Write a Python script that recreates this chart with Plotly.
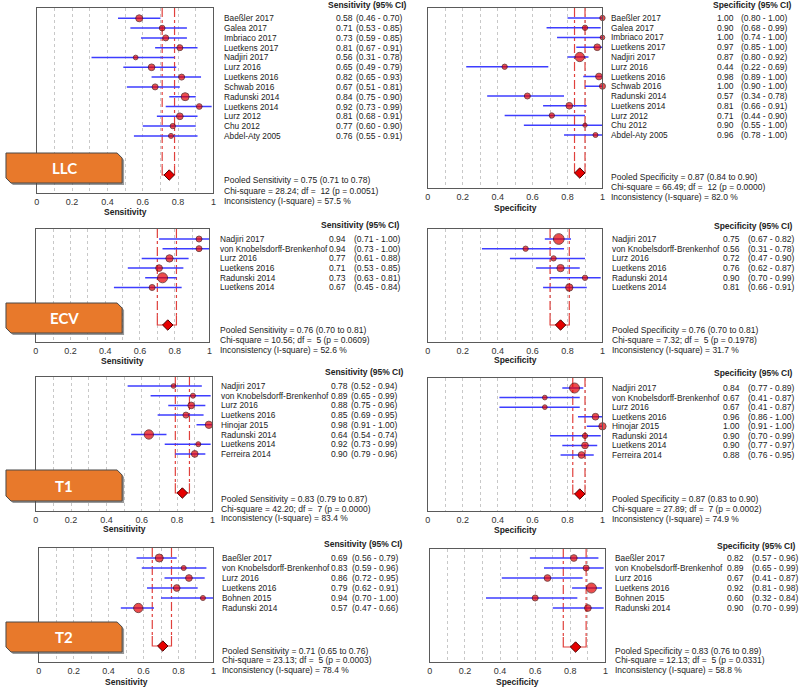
import plotly.graph_objects as go

W, H = 800, 687

# ------------------------------------------------------------------ data
llc_studies = ["Baeßler 2017", "Galea 2017", "Imbriaco 2017", "Luetkens 2017", "Nadjiri 2017",
               "Lurz 2016", "Luetkens 2016", "Schwab 2016", "Radunski 2014", "Luetkens 2014",
               "Lurz 2012", "Chu 2012", "Abdel-Aty 2005"]
llc_sens = [0.58, 0.71, 0.73, 0.81, 0.56, 0.65, 0.82, 0.67, 0.84, 0.92, 0.81, 0.77, 0.76]
llc_sens_lo = [0.46, 0.53, 0.59, 0.67, 0.31, 0.49, 0.65, 0.51, 0.75, 0.73, 0.68, 0.60, 0.55]
llc_sens_hi = [0.70, 0.85, 0.85, 0.91, 0.78, 0.79, 0.93, 0.81, 0.90, 0.99, 0.91, 0.90, 0.91]
llc_sens_weight = [7, 5.7, 6, 6, 4.7, 6.7, 6, 6, 8, 5.7, 6.7, 5.3, 5]
llc_sens_pooled = [0.75, 0.71, 0.78]
llc_sens_stats = [28.24, 12, 0.0051, 57.5]

llc_spec = [1.00, 0.90, 1.00, 0.97, 0.87, 0.44, 0.98, 1.00, 0.57, 0.81, 0.71, 0.90, 0.96]
llc_spec_lo = [0.80, 0.68, 0.74, 0.85, 0.80, 0.22, 0.89, 0.90, 0.34, 0.66, 0.44, 0.55, 0.78]
llc_spec_hi = [1.00, 0.99, 1.00, 1.00, 0.92, 0.69, 1.00, 1.00, 0.78, 0.91, 0.90, 1.00, 1.00]
llc_spec_weight = [5.3, 5.3, 4.7, 6.7, 9.3, 5.3, 6.7, 6, 6, 6.7, 5.3, 4.3, 5]
llc_spec_pooled = [0.87, 0.84, 0.90]
llc_spec_stats = [66.49, 12, 0.0000, 82.0]

ecv_studies = ["Nadjiri 2017", "von Knobelsdorff-Brenkenhof", "Lurz 2016", "Luetkens 2016",
               "Radunski 2014", "Luetkens 2014"]
ecv_sens = [0.94, 0.94, 0.77, 0.71, 0.73, 0.67]
ecv_sens_lo = [0.71, 0.73, 0.61, 0.53, 0.63, 0.45]
ecv_sens_hi = [1.00, 1.00, 0.88, 0.85, 0.81, 0.84]
ecv_sens_weight = [6, 6, 7.3, 6.7, 10, 6]
ecv_sens_pooled = [0.76, 0.70, 0.81]
ecv_sens_stats = [10.56, 5, 0.0609, 52.6]

ecv_spec = [0.75, 0.56, 0.72, 0.76, 0.90, 0.81]
ecv_spec_lo = [0.67, 0.31, 0.47, 0.62, 0.70, 0.66]
ecv_spec_hi = [0.82, 0.78, 0.90, 0.87, 0.99, 0.91]
ecv_spec_weight = [10.7, 5.3, 5.3, 7.3, 5.3, 7.3]
ecv_spec_pooled = [0.76, 0.70, 0.81]
ecv_spec_stats = [7.32, 5, 0.1978, 31.7]

t1_studies = ["Nadjiri 2017", "von Knobelsdorff-Brenkenhof", "Lurz 2016", "Luetkens 2016",
              "Hinojar 2015", "Radunski 2014", "Luetkens 2014", "Ferreira 2014"]
t1_sens = [0.78, 0.89, 0.88, 0.85, 0.98, 0.64, 0.92, 0.90]
t1_sens_lo = [0.52, 0.65, 0.75, 0.69, 0.91, 0.54, 0.73, 0.79]
t1_sens_hi = [0.94, 0.99, 0.96, 0.95, 1.00, 0.74, 0.99, 0.96]
t1_sens_weight = [4.7, 5, 6.7, 6, 7.3, 9.3, 5, 6.7]
t1_sens_pooled = [0.83, 0.79, 0.87]
t1_sens_stats = [42.20, 7, 0.0000, 83.4]

t1_spec = [0.84, 0.67, 0.67, 0.96, 1.00, 0.90, 0.90, 0.88]
t1_spec_lo = [0.77, 0.41, 0.41, 0.86, 0.91, 0.70, 0.77, 0.76]
t1_spec_hi = [0.89, 0.87, 0.87, 1.00, 1.00, 0.99, 0.97, 0.95]
t1_spec_weight = [10, 4.7, 4.7, 6.7, 7.3, 5.3, 6.7, 6.7]
t1_spec_pooled = [0.87, 0.83, 0.90]
t1_spec_stats = [27.89, 7, 0.0002, 74.9]

t2_studies = ["Baeßler 2017", "von Knobelsdorff-Brenkenhof", "Lurz 2016", "Luetkens 2016",
              "Bohnen 2015", "Radunski 2014"]
t2_sens = [0.69, 0.83, 0.86, 0.79, 0.94, 0.57]
t2_sens_lo = [0.56, 0.59, 0.72, 0.62, 0.70, 0.47]
t2_sens_hi = [0.79, 0.96, 0.95, 0.91, 1.00, 0.66]
t2_sens_weight = [8, 5, 6.7, 6.7, 5, 9.3]
t2_sens_pooled = [0.71, 0.65, 0.76]
t2_sens_stats = [23.13, 5, 0.0003, 78.4]

t2_spec = [0.82, 0.89, 0.67, 0.92, 0.60, 0.90]
t2_spec_lo = [0.57, 0.65, 0.41, 0.81, 0.32, 0.70]
t2_spec_hi = [0.96, 0.99, 0.87, 0.98, 0.84, 0.99]
t2_spec_weight = [6.7, 6, 6.7, 10, 6, 6.7]
t2_spec_pooled = [0.83, 0.76, 0.89]
t2_spec_stats = [12.13, 5, 0.0331, 58.8]

badge_labels = ["LLC", "ECV", "T1", "T2"]
tick_vals = [0, 0.2, 0.4, 0.6, 0.8, 1]
tick_text = ["0", "0.2", "0.4", "0.6", "0.8", "1"]

# ------------------------------------------------------------------ layout geometry (pixels)
GEOM = [
    dict(box=(34, 212, 8, 193), row0=18.3, step=9.8, pooled=175, nx=221, vx=333, cx=354, hx=325, hy=5,
         sy=(180, 190.5, 201), ty=212),
    dict(box=(428, 604, 8, 188), row0=18, step=9.75, pooled=173, nx=611, vx=717, cx=742, hx=713, hy=5,
         sy=(177, 187, 197), ty=208),
    dict(box=(33, 208, 229, 342), row0=239, step=9.7, pooled=325, nx=217, vx=326, cx=352, hx=318, hy=225,
         sy=(330, 340, 350), ty=361),
    dict(box=(428, 604, 229, 342), row0=239, step=9.7, pooled=325, nx=612, vx=723, cx=749, hx=714, hy=226,
         sy=(330, 340, 350), ty=360),
    dict(box=(33, 211, 377, 511), row0=386, step=9.7, pooled=493, nx=218, vx=328, cx=349, hx=322, hy=372,
         sy=(499, 509, 518), ty=529),
    dict(box=(428, 604, 378, 511), row0=388, step=9.57, pooled=494, nx=612, vx=723, cx=749, hx=714, hy=373,
         sy=(499, 509, 519), ty=530),
    dict(box=(36, 212, 548, 662), row0=558, step=10, pooled=646, nx=219, vx=328, cx=350, hx=321, hy=544,
         sy=(651, 660, 670), ty=681.5),
    dict(box=(430, 607, 549, 662), row0=558, step=10, pooled=647, nx=615, vx=727, cx=753, hx=717, hy=546,
         sy=(651, 660, 670), ty=681.5),
]
BADGES = [(3, 120, 153, 183), (3, 120, 303, 333), (3, 120, 470, 501), (3, 120, 622, 652)]

PANELS = [
    (llc_studies, llc_sens, llc_sens_lo, llc_sens_hi, llc_sens_weight, llc_sens_pooled, llc_sens_stats, "Sensitivity"),
    (llc_studies, llc_spec, llc_spec_lo, llc_spec_hi, llc_spec_weight, llc_spec_pooled, llc_spec_stats, "Specificity"),
    (ecv_studies, ecv_sens, ecv_sens_lo, ecv_sens_hi, ecv_sens_weight, ecv_sens_pooled, ecv_sens_stats, "Sensitivity"),
    (ecv_studies, ecv_spec, ecv_spec_lo, ecv_spec_hi, ecv_spec_weight, ecv_spec_pooled, ecv_spec_stats, "Specificity"),
    (t1_studies, t1_sens, t1_sens_lo, t1_sens_hi, t1_sens_weight, t1_sens_pooled, t1_sens_stats, "Sensitivity"),
    (t1_studies, t1_spec, t1_spec_lo, t1_spec_hi, t1_spec_weight, t1_spec_pooled, t1_spec_stats, "Specificity"),
    (t2_studies, t2_sens, t2_sens_lo, t2_sens_hi, t2_sens_weight, t2_sens_pooled, t2_sens_stats, "Sensitivity"),
    (t2_studies, t2_spec, t2_spec_lo, t2_spec_hi, t2_spec_weight, t2_spec_pooled, t2_spec_stats, "Specificity"),
]

FONT = "Liberation Sans, Arial, sans-serif"
TXT = "#222222"
FS = 8.5
FS_NAME = 8.3
BLUE = "#3d3dff"
RED = "#e60000"
DASHRED = "#e0403c"
GRID = "#c8c8c8"


def pxx(p):
    return p / W


def pxy(p):
    return 1 - p / H


fig = go.Figure()
annotations = []
shapes = []
layout_axes = {}

for k, (panel, g) in enumerate(zip(PANELS, GEOM), start=1):
    studies, est, lo, hi, wt, pooled, stats, measure = panel
    x0, x1, y0, y1 = g["box"]
    sfx = "" if k == 1 else str(k)
    xa, ya = "x" + sfx, "y" + sfx
    top_idx = (y0 - g["row0"]) / g["step"]
    bot_idx = (y1 - g["row0"]) / g["step"]
    p_idx = (g["pooled"] - g["row0"]) / g["step"]
    n = len(studies)
    idx = list(range(n))

    layout_axes["xaxis" + sfx] = dict(
        domain=[pxx(x0), pxx(x1)], anchor=ya, range=[0, 1], fixedrange=True,
        tickmode="array", tickvals=tick_vals, ticktext=tick_text,
        tickfont=dict(family=FONT, size=9, color="#333"),
        ticks="",
        showgrid=True, gridcolor=GRID, griddash="dot", gridwidth=1,
        minor=dict(tick0=0, dtick=0.1, showgrid=True, gridcolor=GRID, griddash="dot", gridwidth=1),
        showline=True, mirror=True, linecolor="#5a5a5a", linewidth=1.3, zeroline=False,
    )
    layout_axes["yaxis" + sfx] = dict(
        domain=[pxy(y1), pxy(y0)], anchor=xa, range=[bot_idx, top_idx], fixedrange=True,
        showticklabels=False, ticks="", showgrid=False, zeroline=False,
        showline=True, mirror=True, linecolor="#5a5a5a", linewidth=1.3,
    )

    for v in (pooled[1], pooled[2]):
        fig.add_trace(go.Scatter(x=[v, v], y=[top_idx, p_idx - 1.0], mode="lines",
                                 line=dict(color=DASHRED, width=1.2, dash="dashdot"),
                                 xaxis=xa, yaxis=ya, hoverinfo="skip", showlegend=False))
    fig.add_trace(go.Scatter(x=[pooled[1], pooled[1], pooled[2], pooled[2]],
                             y=[p_idx - 1.0, p_idx, p_idx, p_idx - 1.0], mode="lines",
                             line=dict(color=DASHRED, width=1.2),
                             xaxis=xa, yaxis=ya, hoverinfo="skip", showlegend=False))

    cx, cy = [], []
    for i in idx:
        cx += [lo[i], hi[i], None]
        cy += [i, i, None]
    fig.add_trace(go.Scatter(x=cx, y=cy, mode="lines", line=dict(color=BLUE, width=1.5),
                             xaxis=xa, yaxis=ya, hoverinfo="skip", showlegend=False))
    fig.add_trace(go.Scatter(x=est, y=idx, mode="markers",
                             marker=dict(size=wt, color=RED, line=dict(color="#4a0000", width=1)),
                             xaxis=xa, yaxis=ya, cliponaxis=False, showlegend=False))
    fig.add_trace(go.Scatter(x=[pooled[0]], y=[p_idx], mode="markers",
                             marker=dict(size=8, symbol="diamond", color=RED,
                                         line=dict(color="#4a0000", width=1)),
                             xaxis=xa, yaxis=ya, cliponaxis=False, showlegend=False))

    for i in idx:
        annotations.append(dict(x=pxx(g["nx"]), y=i, xref="paper", yref=ya, text=studies[i],
                                showarrow=False, xanchor="left", yanchor="middle",
                                font=dict(family=FONT, size=FS_NAME, color=TXT)))
        annotations.append(dict(x=pxx(g["vx"]), y=i, xref="paper", yref=ya, text=f"{est[i]:.2f}",
                                showarrow=False, xanchor="left", yanchor="middle",
                                font=dict(family=FONT, size=FS, color=TXT)))
        annotations.append(dict(x=pxx(g["cx"]), y=i, xref="paper", yref=ya,
                                text=f"({lo[i]:.2f} - {hi[i]:.2f})",
                                showarrow=False, xanchor="left", yanchor="middle",
                                font=dict(family=FONT, size=FS, color=TXT)))
    annotations.append(dict(x=pxx(g["hx"]), y=pxy(g["hy"]), xref="paper", yref="paper",
                            text=f"<b>{measure} (95% CI)</b>", showarrow=False,
                            xanchor="left", yanchor="middle",
                            font=dict(family=FONT, size=FS, color=TXT)))
    chi, df, pv, i2 = stats
    lines = [f"Pooled {measure} = {pooled[0]:.2f} ({pooled[1]:.2f} to {pooled[2]:.2f})",
             f"Chi-square = {chi:.2f}; df = \u00a0{df} (p = {pv:.4f})",
             f"Inconsistency (I-square) = {i2:.1f} %"]
    for t, yy in zip(lines, g["sy"]):
        annotations.append(dict(x=pxx(g["nx"]), y=pxy(yy), xref="paper", yref="paper", text=t,
                                showarrow=False, xanchor="left", yanchor="middle",
                                font=dict(family=FONT, size=FS, color=TXT)))
    annotations.append(dict(x=pxx((x0 + x1) / 2), y=pxy(g["ty"]), xref="paper", yref="paper",
                            text=f"<b>{measure}</b>", showarrow=False, xanchor="center",
                            yanchor="middle", font=dict(family=FONT, size=FS, color=TXT)))

for (bx0, bx1, by0, by1), lab in zip(BADGES, badge_labels):
    c = 5

    def path(dx, dy):
        pts = [(bx0 + dx, by0 + dy), (bx1 - c + dx, by0 + dy), (bx1 + dx, by0 + c + dy),
               (bx1 + dx, by1 + dy), (bx0 + c + dx, by1 + dy), (bx0 + dx, by1 - c + dy)]
        return "M " + " L ".join(f"{pxx(a):.5f},{pxy(b):.5f}" for a, b in pts) + " Z"

    shapes.append(dict(type="path", xref="paper", yref="paper", path=path(2, 2),
                       fillcolor="rgba(70,70,70,0.55)", line=dict(width=0), layer="above"))
    shapes.append(dict(type="path", xref="paper", yref="paper", path=path(0, 0),
                       fillcolor="#e8792b", line=dict(color="#4a4a4a", width=1), layer="above"))
    annotations.append(dict(x=pxx((bx0 + bx1) / 2), y=pxy((by0 + by1) / 2), xref="paper", yref="paper",
                            text=f"<b>{lab}</b>", showarrow=False, xanchor="center", yanchor="middle",
                            font=dict(family="Lato, Open Sans, sans-serif", size=15, color="white")))

fig.update_layout(
    width=W, height=H, margin=dict(l=0, r=0, t=0, b=0),
    paper_bgcolor="white", plot_bgcolor="white", showlegend=False,
    annotations=annotations, shapes=shapes, **layout_axes,
)

fig.write_html("out.html", config={"displayModeBar": False},
               post_script="document.body.style.margin='0';document.body.style.overflow='hidden';")
